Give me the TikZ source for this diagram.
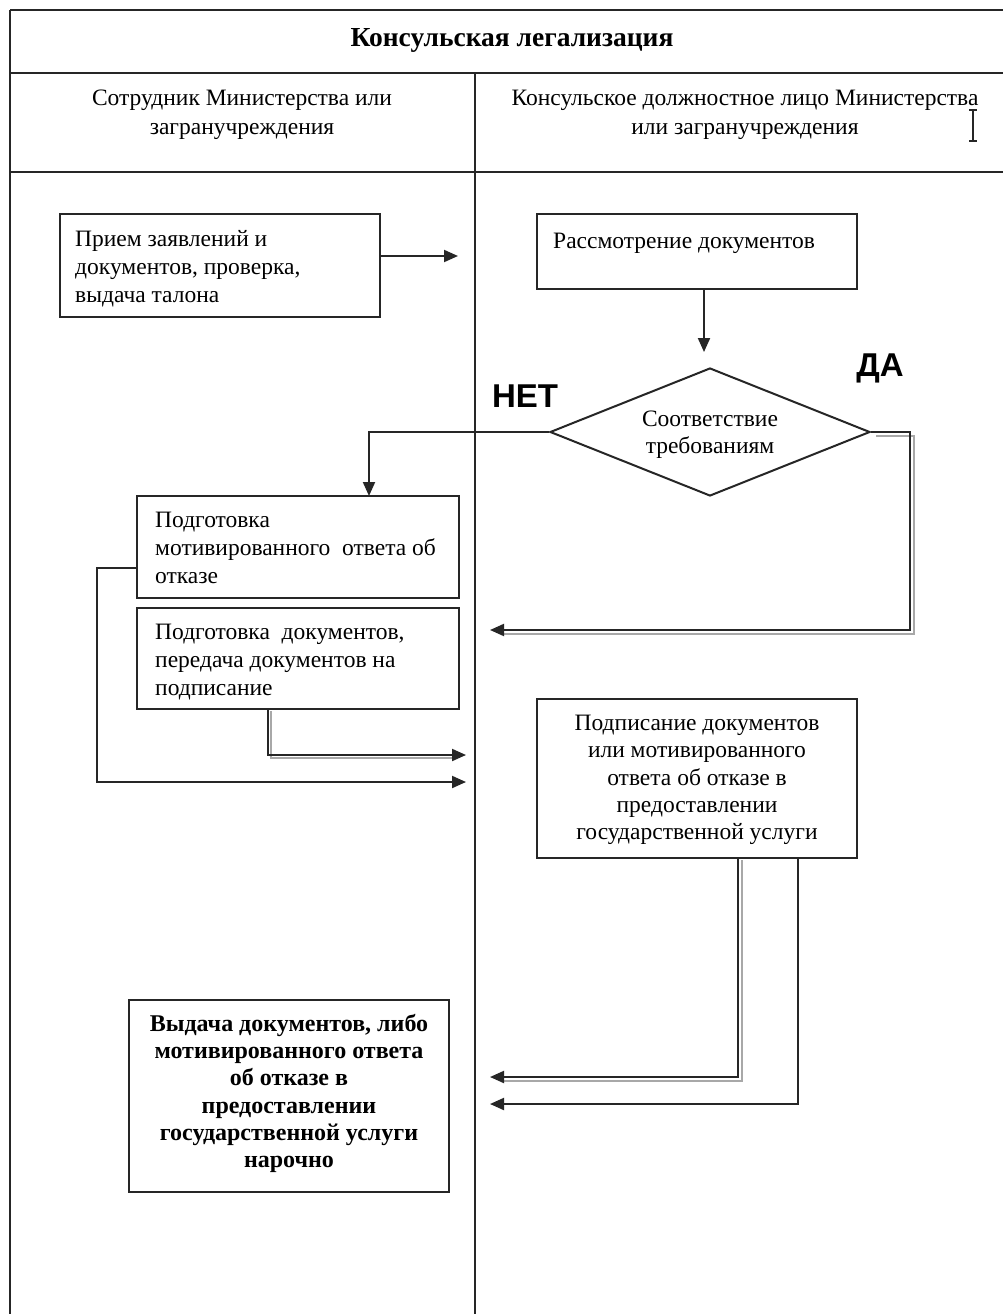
\documentclass[tikz,border=0pt]{standalone}
\usepackage{fontspec}
\setmainfont{Liberation Serif}
\newfontfamily\labelfont{Liberation Sans}
\usetikzlibrary{shapes.geometric,arrows.meta}
\definecolor{ink}{HTML}{262626}
\definecolor{shadowgray}{HTML}{A8A8A8}
\begin{document}
\begin{tikzpicture}[x=1pt,y=-1pt,
  tline/.style={draw=ink, line width=2.2pt},
  arr/.style={draw=ink, line width=2pt, -{Triangle[length=14pt,width=12pt]}},
  shade/.style={draw=shadowgray, line width=2pt},
  box/.style={draw=ink, line width=2pt, rectangle, inner sep=0pt},
  txt/.style={font=\fontsize{23.5}{28}\selectfont, inner sep=0pt, align=left},
  ctxt/.style={font=\fontsize{23.5}{27.2}\selectfont, inner sep=0pt, align=center},
  yn/.style={font=\labelfont\bfseries\fontsize{33}{35}\selectfont, inner sep=0pt}
]
\useasboundingbox (0,0) rectangle (1002,1314);
\fill[white] (0,0) rectangle (1002,1314);

% table
\draw[tline] (10,10) -- (1010,10);
\draw[tline] (10,73) -- (1010,73);
\draw[tline] (10,172) -- (1010,172);
\draw[tline] (10,10) -- (10,1320);
\draw[tline] (475,73) -- (475,1320);

\node[font=\bfseries\fontsize{27.5}{30}\selectfont, inner sep=0pt] (title) at (512,40) {Консульская легализация};
\node[ctxt, font=\fontsize{23.5}{29}\selectfont] (laneA) at (242,115) {Сотрудник Министерства или\\загранучреждения};
\node[ctxt, font=\fontsize{23.5}{29}\selectfont] (laneB) at (745,115) {Консульское должностное лицо Министерства\\или загранучреждения};

% cursor
\draw[line width=1.2pt, ink] (969,110) -- (977,110) (973,110) -- (973,141) (969,141) -- (977,141);

% boxes
\node[box, minimum width=320pt, minimum height=103pt] (b1) at (220,265.5) {};
\node[txt, anchor=west] (t1) at (75,269) {Прием заявлений и\\документов, проверка,\\выдача талона};

\node[box, minimum width=320pt, minimum height=75pt] (b2) at (697,251.5) {};
\node[txt, anchor=west] (t2) at (553,243) {Рассмотрение документов};

\node[draw=ink, line width=2pt, diamond, minimum width=320pt, minimum height=128pt, inner sep=0pt] (d) at (710,432) {};
\node[ctxt] (td) at (710,435) {Соответствие\\требованиям};

\node[box, minimum width=322pt, minimum height=102pt] (b4) at (298,547) {};
\node[txt, anchor=west] (t4) at (155,548) {Подготовка\\мотивированного~ ответа об\\отказе};

\node[box, minimum width=322pt, minimum height=101pt] (b5) at (298,658.5) {};
\node[txt, anchor=west] (t5) at (155,662) {Подготовка~ документов,\\передача документов на\\подписание};

\node[box, minimum width=320pt, minimum height=159pt] (b6) at (697,778.5) {};
\node[ctxt] (t6) at (697,780) {Подписание документов\\или мотивированного\\ответа об отказе в\\предоставлении\\государственной услуги};

\node[box, minimum width=320pt, minimum height=192pt] (b7) at (289,1096) {};
\node[ctxt, font=\bfseries\fontsize{24}{27.2}\selectfont] (t7) at (289,1093.5) {Выдача документов, либо\\мотивированного ответа\\об отказе в\\предоставлении\\государственной услуги\\нарочно};

\node[yn] (no) at (525,396) {НЕТ};
\node[yn] (yes) at (880,368) {ДА};

% connectors
\coordinate (c1) at (458,256);
\draw[arr] (b1.east |- c1) -- (c1);

\coordinate (c2) at (704,352);
\draw[arr] (c2 |- b2.south) -- (c2);

\coordinate (c3) at (369,496);
\draw[arr] (d.west) -| (c3);

% ДА branch (shadowed)
\coordinate (c4) at (490,630);
\draw[shade] ([shift={(5,4)}]d.east) -- (914,436) -- (914,634) -- (502,634);
\draw[arr] (d.east) -- (910,432) -- (910,630) -- (c4);

% from b5 (shadowed)
\coordinate (c5) at (466,755);
\draw[shade] (271,711) -- (271,758) -- (456,758);
\draw[arr] (b5.south -| 268,0) -- (268,755) -- (c5);

% from b4
\coordinate (c6) at (466,782);
\draw[arr] (b4.west |- 0,568) -- (97,568) -- (97,782) -- (c6);

% from b6 (shadowed)
\coordinate (c7) at (490,1077);
\draw[shade] (742,860) -- (742,1081) -- (502,1081);
\draw[arr] (b6.south -| 738,0) -- (738,1077) -- (c7);

\coordinate (c8) at (490,1104);
\draw[arr] (b6.south -| 798,0) -- (798,1104) -- (c8);
\end{tikzpicture}
\end{document}
